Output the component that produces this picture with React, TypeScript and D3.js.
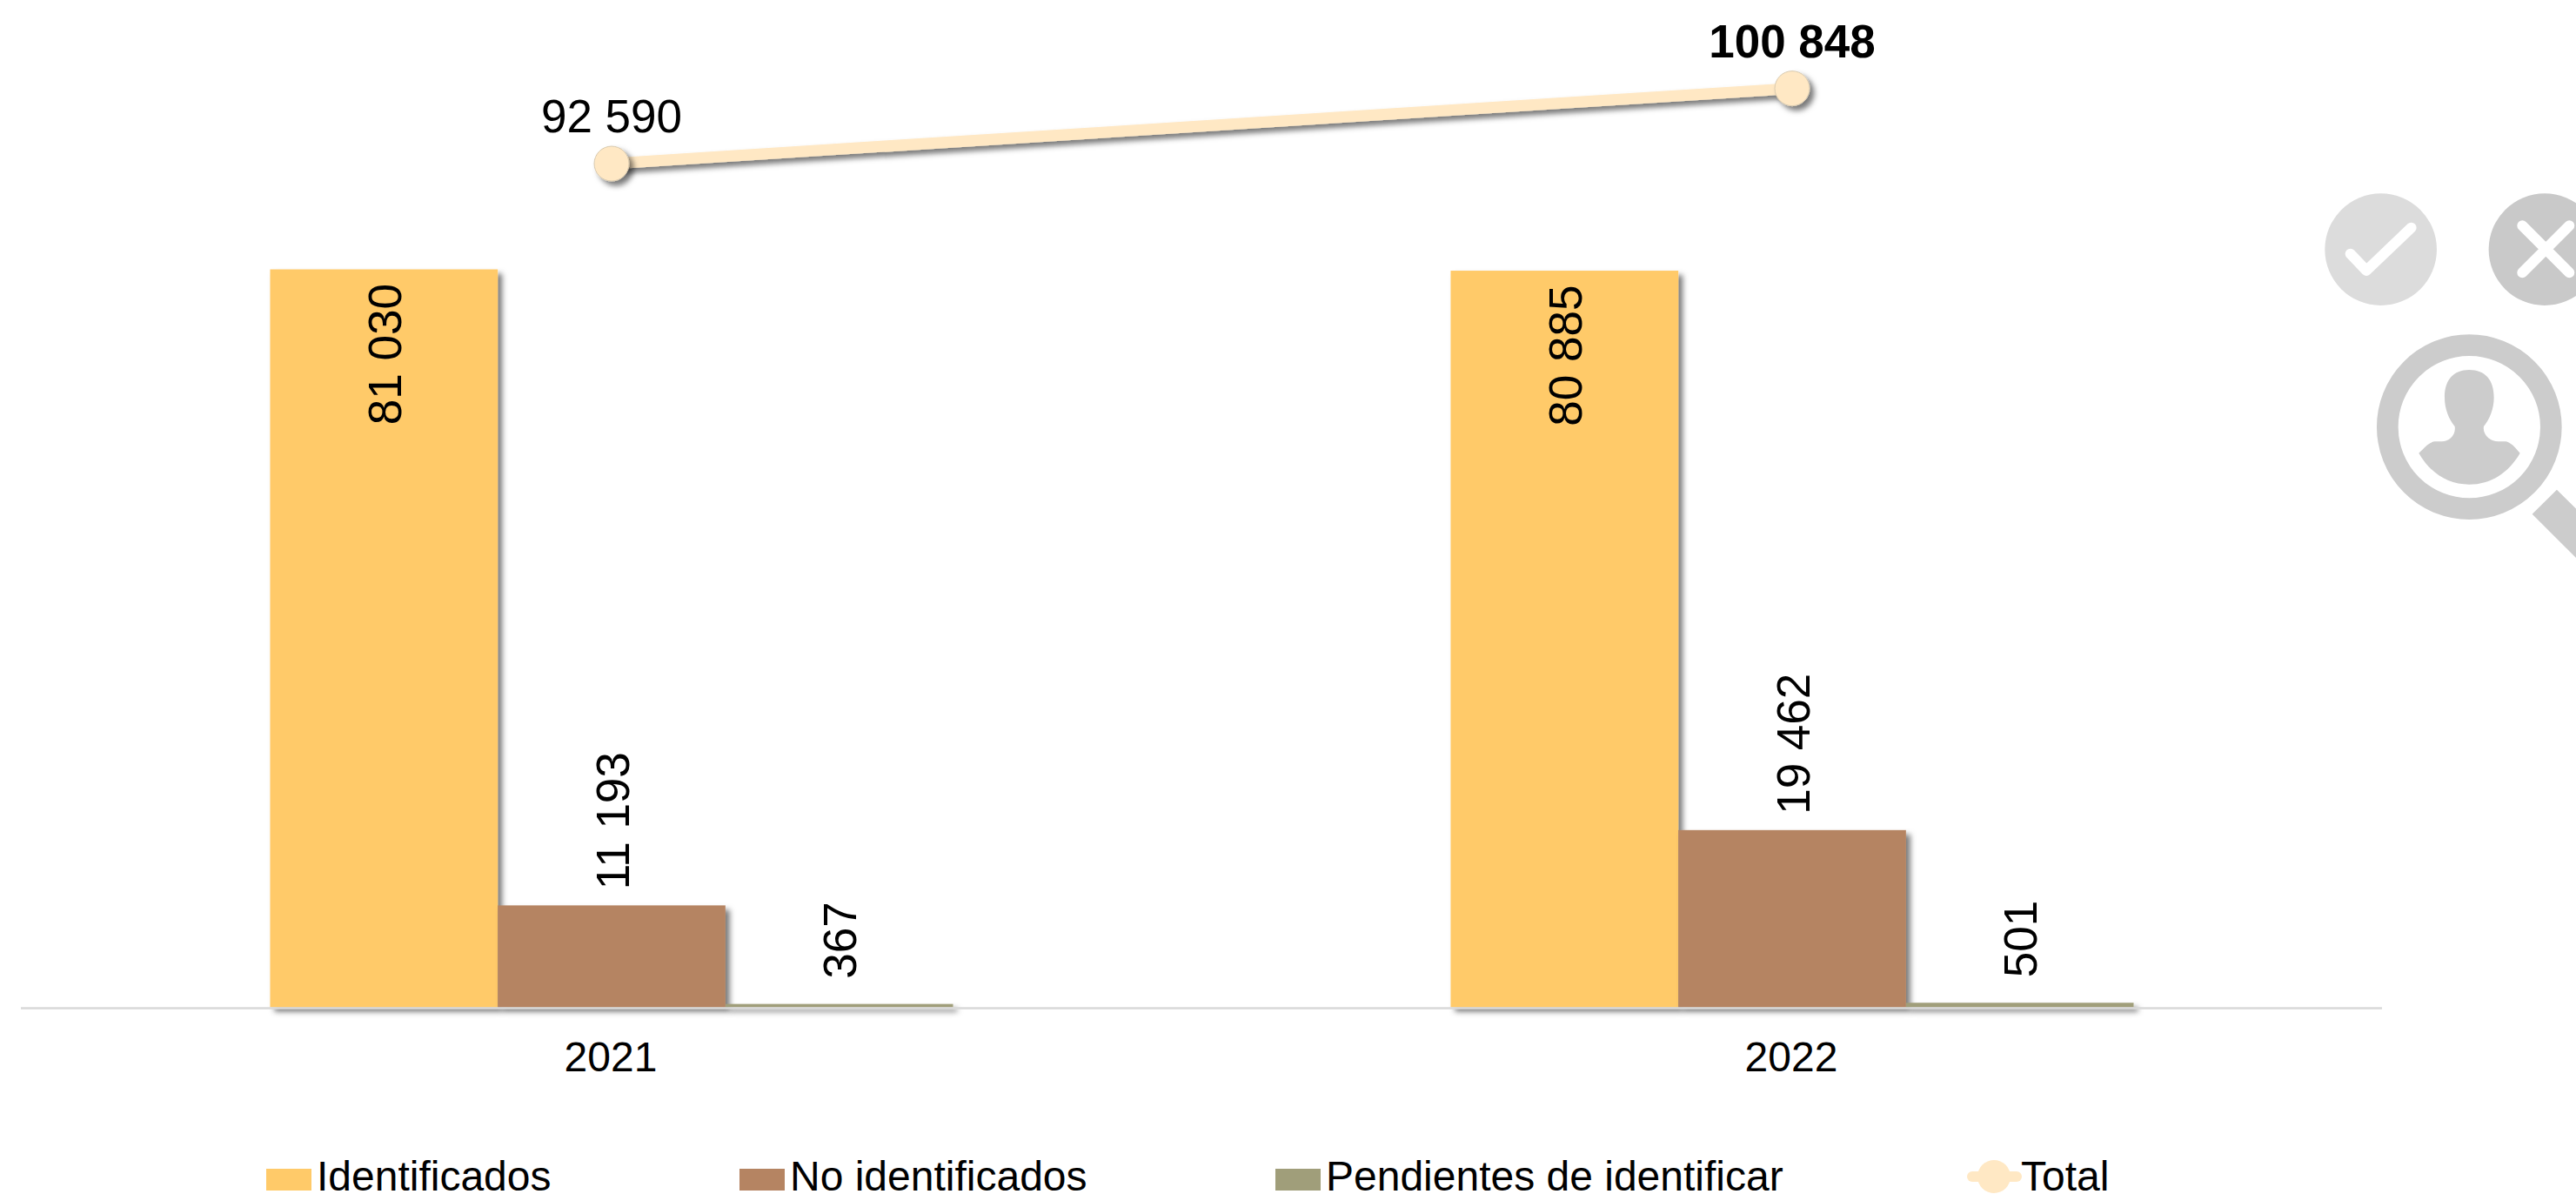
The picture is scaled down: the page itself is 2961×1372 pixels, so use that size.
import React from "react";
import * as d3 from "d3";

const years = ["2021", "2022"];
const seriesNames = ["Identificados", "No identificados", "Pendientes de identificar"];
const identificados = [81030, 80885];
const noIdentificados = [11193, 19462];
const pendientes = [367, 501];
const totals = [92590, 100848];
const seriesValues = [identificados, noIdentificados, pendientes];
const seriesColors = ["#FFCA69", "#B58462", "#A09E7A"];
const lineColor = "#FFE8C4";
const font = "'Liberation Sans', Arial, sans-serif";
const labelGap = [-16.5, 18, 29];

const W = 2961, H = 1372;
const baseY = 1157.5;
const fmt = d3.formatLocale({ thousands: " ", grouping: [3], decimal: ".", currency: ["", ""] }).format(",");

const x0 = d3.scaleBand<string>().domain(years).range([24.5, 2738.5]).paddingInner(0.4215).paddingOuter(0.21075);
const x1 = d3.scaleBand<string>().domain(seriesNames).range([0, x0.bandwidth()]);
const y = d3.scaleLinear().domain([0, 100000]).range([baseY, 111]);

const lineGen = d3.line<number>().x((_, i) => (x0(years[i]) as number) + x0.bandwidth() / 2).y((d) => y(d) - 0.5);

const legend = [
  { name: seriesNames[0], sx: 306, tx: 364, color: seriesColors[0] },
  { name: seriesNames[1], sx: 850, tx: 908, color: seriesColors[1] },
  { name: seriesNames[2], sx: 1466, tx: 1524, color: seriesColors[2] },
];

export default function App() {
  return (
    <svg width={W} height={H} viewBox={`0 0 ${W} ${H}`} style={{ position: "absolute", left: 0, top: 0, display: "block", background: "#fff" }} fontFamily={font}>
      <defs>
        <filter id="sh" filterUnits="userSpaceOnUse" x="0" y="0" width={W} height={H}>
          <feDropShadow dx="5" dy="5" stdDeviation="3.2" floodColor="#000" floodOpacity="0.52" />
        </filter>
      </defs>

      {/* bars */}
      {seriesNames.map((s, si) => (
        <g key={s}>
          {years.map((yr, i) => {
            const v = seriesValues[si][i];
            return (
              <rect key={yr} x={(x0(yr) as number) + (x1(s) as number)} y={y(v)} width={x1.bandwidth()} height={baseY - y(v)} fill={seriesColors[si]} filter="url(#sh)" />
            );
          })}
        </g>
      ))}

      {/* axis */}
      <line x1={24} x2={2738} y1={1158.5} y2={1158.5} stroke="#D9D9D9" strokeWidth={2.5} />
      {years.map((yr) => (
        <text key={yr} x={(x0(yr) as number) + x0.bandwidth() / 2 - 1} y={1231} textAnchor="middle" fontSize={48} fill="#000">{yr}</text>
      ))}

      {/* bar labels */}
      {seriesNames.map((s, si) =>
        years.map((yr, i) => {
          const v = seriesValues[si][i];
          const cx = (x0(yr) as number) + (x1(s) as number) + x1.bandwidth() / 2 + 1;
          const cy = y(v) - labelGap[si];
          return (
            <text key={s + yr} transform={`translate(${cx},${cy}) rotate(-90)`} textAnchor={si === 0 ? "end" : "start"} dy="0.35em" fontSize={53} fill="#000">
              {fmt(v)}
            </text>
          );
        })
      )}

      {/* total line */}
      <path d={lineGen(totals) as string} fill="none" stroke={lineColor} strokeWidth={13} filter="url(#sh)" />
      {years.map((yr, i) => (
        <circle key={yr} cx={(x0(yr) as number) + x0.bandwidth() / 2} cy={y(totals[i]) - 0.5} r={20} fill={lineColor} stroke="#D8C9AE" strokeWidth={1} filter="url(#sh)" />
      ))}
      {years.map((yr, i) => (
        <text key={yr} x={(x0(yr) as number) + x0.bandwidth() / 2} y={y(totals[i]) - 36.5} textAnchor="middle" fontSize={53} fontWeight={i === 1 ? 700 : 400} fill="#000">
          {fmt(totals[i])}
        </text>
      ))}

      {/* legend */}
      {legend.map((l) => (
        <g key={l.name}>
          <rect x={l.sx} y={1343} width={52} height={25} fill={l.color} />
          <text x={l.tx} y={1368} fontSize={48} fill="#000">{l.name}</text>
        </g>
      ))}
      <line x1={2267} x2={2318} y1={1352} y2={1352} stroke={lineColor} strokeWidth={12} strokeLinecap="round" />
      <circle cx={2292} cy={1352} r={19} fill={lineColor} />
      <text x={2323} y={1368} fontSize={48} fill="#000">Total</text>

      {/* decorative icons */}
      <g transform="translate(2600,180) scale(0.3333)">
        <circle cx={410} cy={320} r={193} fill="#DCDCDC" />
        <path d="M305,335 L360,393 L515,245" fill="none" stroke="#fff" strokeWidth={36} strokeLinecap="round" strokeLinejoin="round" />
        <circle cx={975} cy={320} r={193} fill="#C9C9C9" />
        <path d="M898,238 L1060,400 M1060,238 L898,400" fill="none" stroke="#fff" strokeWidth={36} strokeLinecap="round" />
        <circle cx={715} cy={932} r={282} fill="none" stroke="#CCCCCC" strokeWidth={74} />
        <path d="M1017,1148 L932,1232 L1200,1500 L1300,1430 Z" fill="#CCCCCC" />
        <path d="M715,735 C770,735 800,770 800,830 C800,870 785,905 765,930 C760,960 790,982 815,982 L840,982 C860,985 875,1005 890,1022 C850,1090 790,1130 715,1130 C640,1130 580,1090 541,1022 C560,1005 575,985 595,982 L620,982 C645,982 670,960 665,930 C645,905 630,870 630,830 C630,770 660,735 715,735 Z" fill="#CCCCCC" />
      </g>
    </svg>
  );
}
